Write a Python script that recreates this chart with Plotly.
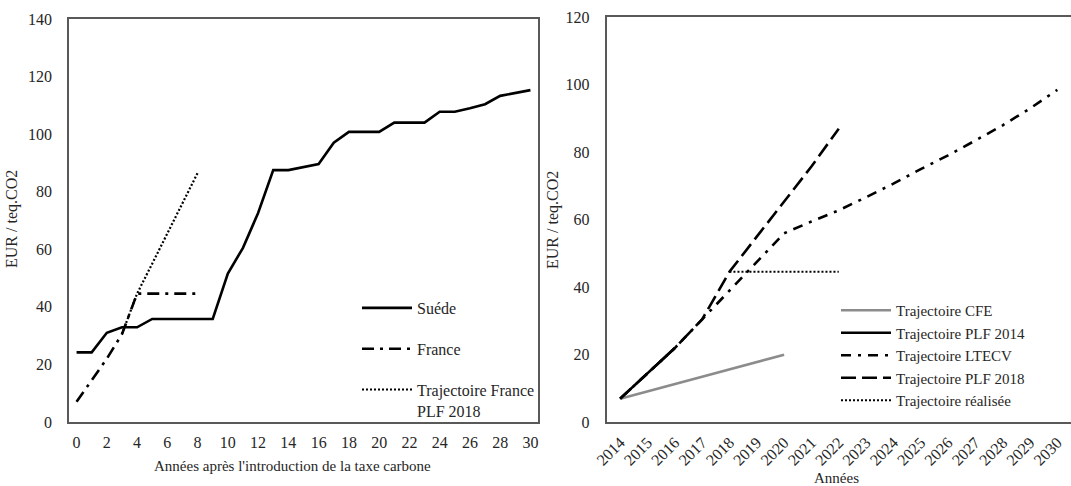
import plotly.graph_objects as go

# ---------------- Left chart data ----------------
years_after = list(range(0, 31))
suede = [24.2, 24.2, 31.0, 32.9, 32.9, 35.8, 35.8, 35.8, 35.8, 35.8,
         51.6, 60.5, 72.6, 87.5, 87.5, 88.5, 89.6, 97.0, 100.8, 100.8,
         100.8, 104.0, 104.0, 104.0, 107.8, 107.8, 109.0, 110.4, 113.3, 114.3,
         115.3]
france_x = [0, 1, 2, 3, 4, 5, 6, 7, 8]
france = [7.0, 14.5, 22.0, 30.5, 44.6, 44.6, 44.6, 44.6, 44.6]
plf2018_left_x = [3, 4, 5, 6, 7, 8]
plf2018_left = [30.5, 44.6, 55.0, 65.4, 75.8, 86.5]
left_xticks = list(range(0, 31, 2))
left_yticks = list(range(0, 141, 20))

# ---------------- Right chart data ----------------
years = list(range(2014, 2031))
cfe_x = [2014, 2015, 2016, 2017, 2018, 2019, 2020]
cfe = [7.0, 9.2, 11.3, 13.5, 15.7, 17.8, 20.0]
plf2014_x = [2014, 2015, 2016]
plf2014 = [7.0, 14.5, 22.0]
ltecv_x = list(range(2014, 2031))
ltecv = [7.0, 14.5, 22.0, 30.5, 39.0, 47.5, 56.0, 59.5, 62.8, 66.7,
         70.7, 75.0, 79.1, 83.5, 88.0, 93.0, 98.5]
plf2018_x = [2014, 2015, 2016, 2017, 2018, 2019, 2020, 2021, 2022]
plf2018 = [7.0, 14.5, 22.0, 30.5, 44.6, 55.0, 65.4, 75.8, 87.0]
realisee_x = [2018, 2019, 2020, 2021, 2022]
realisee = [44.6, 44.6, 44.6, 44.6, 44.6]
right_yticks = list(range(0, 121, 20))

W, H = 1071, 486
FONT = "Liberation Serif"
AX = "#595959"
TXT = "#262626"


def px_x(p):
    return p / W


def px_y(p):
    return 1 - p / H


fig = go.Figure()

# left traces
fig.add_trace(go.Scatter(x=years_after, y=suede, mode="lines", name="Suéde",
                         line=dict(color="black", width=2.6), xaxis="x", yaxis="y",
                         legend="legend", legendgroup="a"))
fig.add_trace(go.Scatter(x=france_x, y=france, mode="lines", name="France",
                         line=dict(color="black", width=2.6, dash="12px,6px,3px,6px"),
                         xaxis="x", yaxis="y", legend="legend", legendgroup="b"))
fig.add_trace(go.Scatter(x=plf2018_left_x, y=plf2018_left, mode="lines",
                         name="Trajectoire France<br>PLF 2018",
                         line=dict(color="black", width=2.2, dash="2px,2px"),
                         xaxis="x", yaxis="y", legend="legend", legendgroup="c"))

# right traces
fig.add_trace(go.Scatter(x=cfe_x, y=cfe, mode="lines", name="Trajectoire CFE",
                         line=dict(color="#8c8c8c", width=2.6), xaxis="x2", yaxis="y2",
                         legend="legend2", legendrank=1))
fig.add_trace(go.Scatter(x=ltecv_x, y=ltecv, mode="lines", name="Trajectoire LTECV",
                         line=dict(color="black", width=2.6, dash="10px,7px,3px,7px"),
                         xaxis="x2", yaxis="y2", legend="legend2", legendrank=3))
fig.add_trace(go.Scatter(x=plf2018_x, y=plf2018, mode="lines", name="Trajectoire PLF 2018",
                         line=dict(color="black", width=2.6, dash="15px,6px"),
                         xaxis="x2", yaxis="y2", legend="legend2", legendrank=4))
fig.add_trace(go.Scatter(x=plf2014_x, y=plf2014, mode="lines", name="Trajectoire PLF 2014",
                         line=dict(color="black", width=2.6),
                         xaxis="x2", yaxis="y2", legend="legend2", legendrank=2))
fig.add_trace(go.Scatter(x=realisee_x, y=realisee, mode="lines", name="Trajectoire réalisée",
                         line=dict(color="black", width=2.2, dash="2px,2px"),
                         xaxis="x2", yaxis="y2", legend="legend2", legendrank=5))

tickfont = dict(family=FONT, size=16, color=TXT)

fig.update_layout(
    width=W, height=H,
    margin=dict(l=0, r=0, t=0, b=0),
    paper_bgcolor="white", plot_bgcolor="white",
    font=dict(family=FONT, size=15, color=TXT),
    xaxis=dict(domain=[px_x(69), px_x(538)], range=[-0.5, 30.5],
               tickvals=left_xticks, ticktext=[str(v) for v in left_xticks],
               showgrid=False, zeroline=False, showline=True, linecolor=AX, linewidth=1.5,
               mirror=True, ticks="", ticklabelstandoff=5, tickfont=tickfont,
               anchor="y", automargin=False),
    yaxis=dict(domain=[px_y(422), px_y(19)], range=[0, 140],
               tickvals=left_yticks, showgrid=False, zeroline=False, showline=True,
               linecolor=AX, linewidth=1.5, mirror=True, ticks="", ticklabelstandoff=12,
               tickfont=tickfont, anchor="x", automargin=False),
    xaxis2=dict(domain=[px_x(606.5), 1.0], range=[2013.5, 2030.5],
                tickvals=years, ticktext=[str(v) for v in years], tickangle=-45,
                showgrid=False, zeroline=False, showline=True, linecolor=AX, linewidth=1.5,
                mirror=True, ticks="", ticklabelstandoff=3, tickfont=tickfont,
                anchor="y2", automargin=False),
    yaxis2=dict(domain=[px_y(422.3), px_y(17.3)], range=[0, 120],
                tickvals=right_yticks, showgrid=False, zeroline=False, showline=True,
                linecolor=AX, linewidth=1.5, mirror=False, ticks="", ticklabelstandoff=12,
                tickfont=tickfont, anchor="x2", automargin=False),
    legend=dict(x=px_x(357), y=px_y(291), xanchor="left", yanchor="top",
                traceorder="grouped", tracegroupgap=17, valign="top", itemwidth=50,
                font=dict(family=FONT, size=16, color=TXT), bgcolor="rgba(0,0,0,0)"),
    legend2=dict(x=px_x(836), y=px_y(294), xanchor="left", yanchor="top",
                 traceorder="normal", tracegroupgap=0, itemwidth=50,
                 font=dict(family=FONT, size=15, color=TXT), bgcolor="rgba(0,0,0,0)"),
    showlegend=True,
)

# axis titles
fig.add_annotation(text="Années après l'introduction de la taxe carbone", xref="paper", yref="paper",
                   x=px_x(292), y=px_y(466), xanchor="center", yanchor="middle", showarrow=False,
                   font=dict(family=FONT, size=15, color=TXT))
fig.add_annotation(text="EUR / teq.CO2", xref="paper", yref="paper",
                   x=px_x(12), y=px_y(219), xanchor="center", yanchor="middle", showarrow=False,
                   textangle=-90, font=dict(family=FONT, size=16, color=TXT))
fig.add_annotation(text="Années", xref="paper", yref="paper",
                   x=px_x(836), y=px_y(478), xanchor="center", yanchor="middle", showarrow=False,
                   font=dict(family=FONT, size=15, color=TXT))
fig.add_annotation(text="EUR / teq.CO2", xref="paper", yref="paper",
                   x=px_x(553), y=px_y(220), xanchor="center", yanchor="middle", showarrow=False,
                   textangle=-90, font=dict(family=FONT, size=16, color=TXT))

fig.write_html("out.html")
